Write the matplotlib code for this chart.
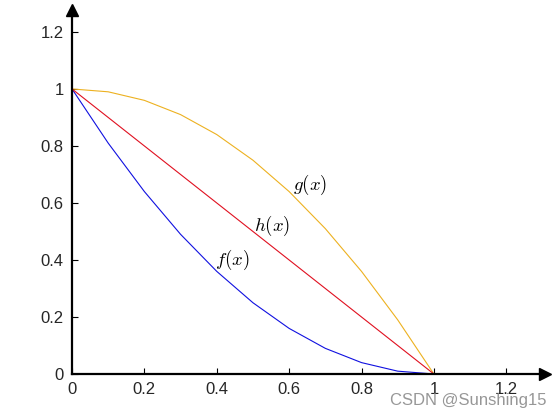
import matplotlib
matplotlib.use("Agg")
import matplotlib.pyplot as plt

x = [0.0, 0.1, 0.2, 0.3, 0.4, 0.5, 0.6, 0.7, 0.8, 0.9, 1.0]
f_vals = [1.0, 0.81, 0.64, 0.49, 0.36, 0.25, 0.16, 0.09, 0.04, 0.01, 0.0]
g_vals = [1.0, 0.99, 0.96, 0.91, 0.84, 0.75, 0.64, 0.51, 0.36, 0.19, 0.0]
h_vals = [1.0, 0.9, 0.8, 0.7, 0.6, 0.5, 0.4, 0.3, 0.2, 0.1, 0.0]

ticks = [0, 0.2, 0.4, 0.6, 0.8, 1, 1.2]
tick_labels = ["0", "0.2", "0.4", "0.6", "0.8", "1", "1.2"]

plt.rcParams['font.family'] = ['Liberation Sans', 'DejaVu Sans']
plt.rcParams['mathtext.fontset'] = 'cm'

fig = plt.figure(figsize=(5.6, 4.2), dpi=100)
ax = fig.add_axes([0.1286, 0.1095, 0.8446, 0.8667])

ax.plot(x, f_vals, color='#1010e0', linewidth=0.8)
ax.plot(x, g_vals, color='#edb120', linewidth=0.8)
ax.plot(x, h_vals, color='#e01020', linewidth=0.8)

ax.text(0.657, 0.663, r'$g(x)$', fontsize=13.5, ha='center', va='center')
ax.text(0.552, 0.519, r'$h(x)$', fontsize=13.5, ha='center', va='center')
ax.text(0.442, 0.40, r'$f(x)$', fontsize=13.5, ha='center', va='center')

ax.set_xlim(0, 1.307)
ax.set_ylim(0, 1.277)
ax.set_xticks(ticks)
ax.set_xticklabels(tick_labels)
ax.set_yticks(ticks)
ax.set_yticklabels(tick_labels)
ax.tick_params(direction='in', length=4, width=0.8, labelsize=12,
               colors='black', labelcolor='#262626')
ax.tick_params(axis='x', pad=6)
ax.tick_params(axis='y', pad=6)

for side in ['top', 'right']:
    ax.spines[side].set_visible(False)
for side in ['left', 'bottom']:
    ax.spines[side].set_linewidth(1.6)

# arrow heads at axis ends
ax.plot(1, 0, ">k", transform=ax.transAxes, clip_on=False, markersize=8)
ax.plot(0, 1, "^k", transform=ax.transAxes, clip_on=False, markersize=8)

fig.text(0.975, 0.028, "CSDN @Sunshing15", color='#8c8c8c', fontsize=12,
         ha='right', va='bottom', alpha=0.9)

fig.savefig("out.png", dpi=100)
